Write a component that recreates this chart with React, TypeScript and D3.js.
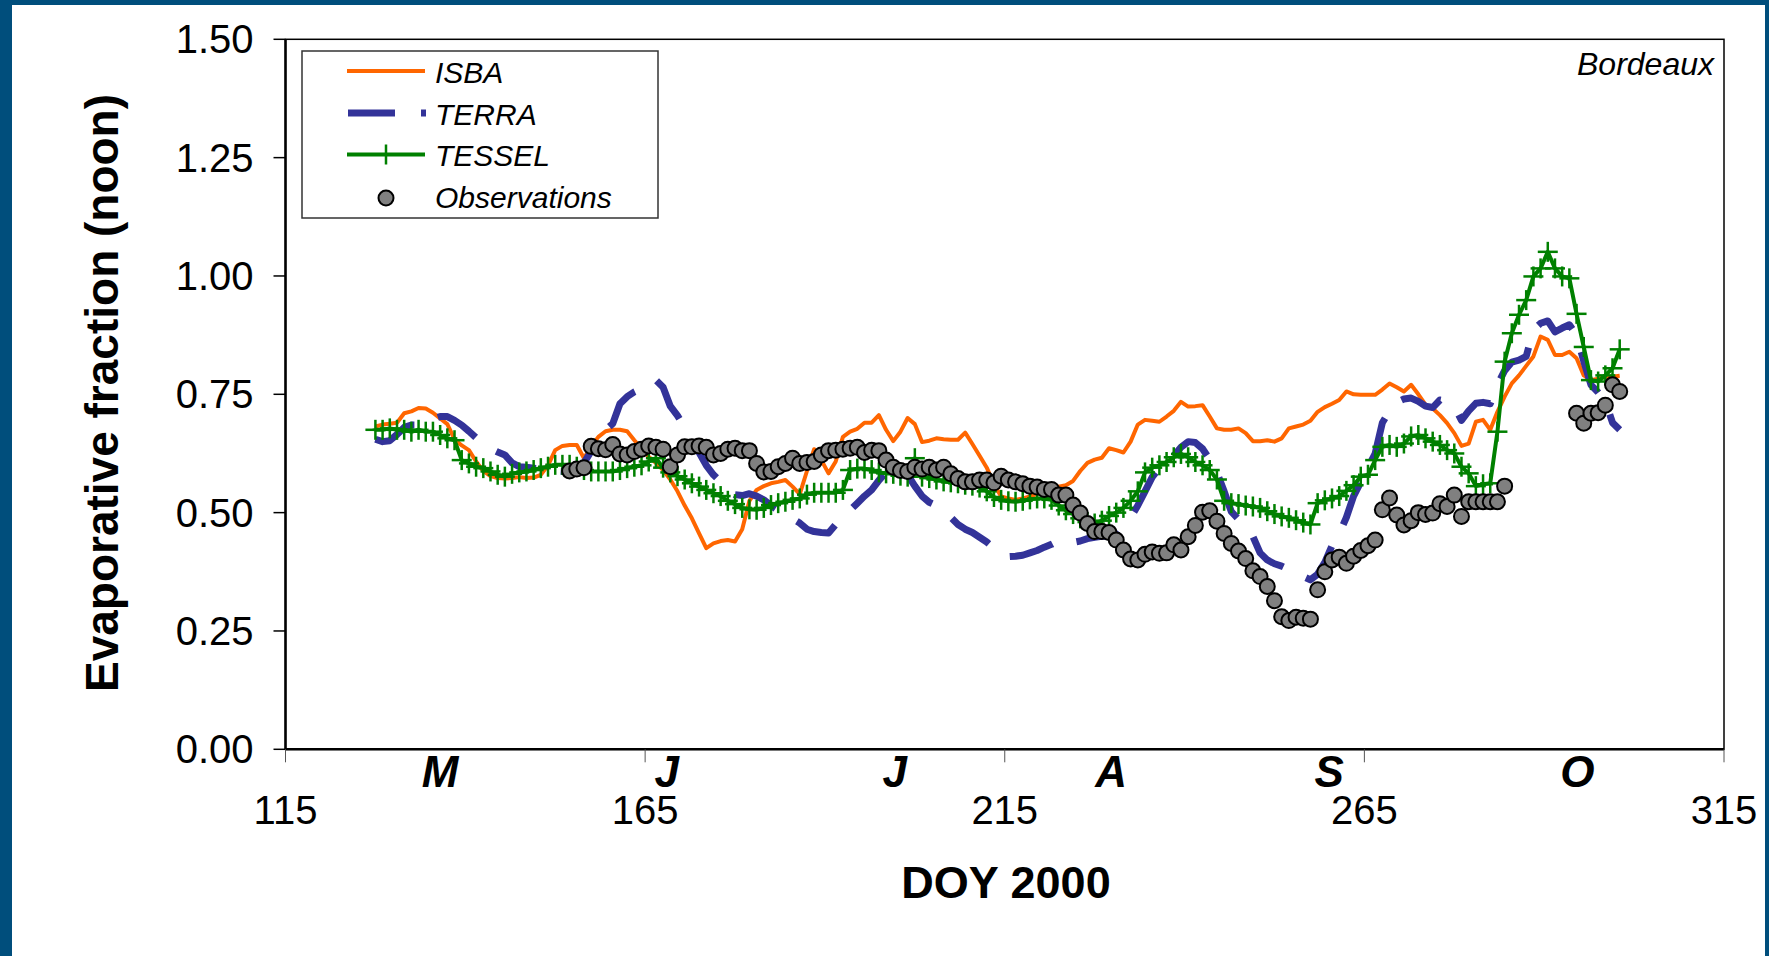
import React from "react";
import * as d3 from "d3";

// ---------- data ----------
const SERIES_START = 127; // first DOY of the model series
const isbaValues = [
  0.682, 0.686, 0.688, 0.69, 0.71, 0.714, 0.721, 0.72, 0.711, 0.699, 0.687, 0.655, 0.642, 0.632, 0.608, 0.588, 0.577, 0.573, 0.572, 0.573,
  0.575, 0.573, 0.574, 0.58, 0.6, 0.632, 0.641, 0.643, 0.643, 0.615, 0.64, 0.66, 0.672, 0.675, 0.675, 0.672, 0.653, 0.635, 0.618, 0.605,
  0.59, 0.57, 0.545, 0.515, 0.488, 0.456, 0.425, 0.435, 0.44, 0.442, 0.439, 0.465, 0.525, 0.548, 0.556, 0.562, 0.565, 0.569, 0.555, 0.539,
  0.588, 0.634, 0.611, 0.583, 0.608, 0.66, 0.671, 0.677, 0.69, 0.69, 0.706, 0.675, 0.651, 0.671, 0.7, 0.687, 0.649, 0.652, 0.657, 0.655,
  0.654, 0.654, 0.669, 0.645, 0.62, 0.595, 0.56, 0.534, 0.53, 0.527, 0.53, 0.534, 0.54, 0.548, 0.555, 0.555, 0.558, 0.567, 0.588, 0.605,
  0.612, 0.616, 0.636, 0.632, 0.627, 0.65, 0.686, 0.696, 0.694, 0.692, 0.703, 0.715, 0.734, 0.724, 0.725, 0.727, 0.703, 0.678, 0.675, 0.675,
  0.678, 0.668, 0.651, 0.651, 0.653, 0.65, 0.657, 0.678, 0.682, 0.686, 0.694, 0.713, 0.723, 0.73, 0.738, 0.756, 0.75, 0.749, 0.749, 0.749,
  0.76, 0.773, 0.765, 0.756, 0.77, 0.75, 0.728, 0.72, 0.706, 0.689, 0.668, 0.641, 0.646, 0.692, 0.696, 0.675, 0.713, 0.745, 0.773, 0.79,
  0.81, 0.83, 0.872, 0.865, 0.833, 0.833, 0.84, 0.826, 0.79, 0.78, 0.783, 0.787, 0.787, 0.789,
];
const terraValues = [
  0.655, 0.65, 0.652, 0.665, 0.68, 0.685, 0.685, 0.69, 0.698, 0.703, 0.703, 0.695, 0.685, 0.672, 0.658, 0.645, 0.635, 0.628, 0.622, 0.605,
  0.597, 0.596, 0.594, 0.592, 0.59, 0.588, 0.587, 0.59, 0.595, 0.605, 0.63, 0.66, 0.675, 0.688, 0.73, 0.745, 0.755, 0.762, 0.77, 0.78,
  0.765, 0.725, 0.705, 0.68, 0.65, 0.627, 0.6, 0.58, 0.565, 0.55, 0.538, 0.536, 0.54, 0.535, 0.527, 0.515, 0.505, 0.495, 0.487, 0.478,
  0.465, 0.46, 0.458, 0.457, 0.475, 0.49, 0.505, 0.52, 0.535, 0.548, 0.568, 0.585, 0.595, 0.6, 0.58, 0.556, 0.535, 0.522, 0.515, 0.503,
  0.49, 0.475, 0.465, 0.458, 0.448, 0.438, 0.425, 0.413, 0.407, 0.408, 0.41, 0.415, 0.42, 0.427, 0.433, 0.441, 0.437, 0.437, 0.44, 0.445,
  0.448, 0.45, 0.45, 0.452, 0.47, 0.49, 0.515, 0.545, 0.575, 0.595, 0.605, 0.62, 0.638, 0.65, 0.648, 0.635, 0.612, 0.585, 0.545, 0.502,
  0.486, 0.47, 0.45, 0.415, 0.4, 0.392, 0.387, 0.38, 0.373, 0.365, 0.358, 0.37, 0.395, 0.43, 0.455, 0.49, 0.535, 0.565, 0.595, 0.625,
  0.69, 0.715, 0.733, 0.74, 0.742, 0.735, 0.725, 0.722, 0.738, 0.735, 0.725, 0.695, 0.715, 0.731, 0.733, 0.73, 0.77, 0.8, 0.818, 0.822,
  0.83, 0.886, 0.9, 0.905, 0.882, 0.89, 0.897, 0.875, 0.82, 0.77, 0.754, 0.735, 0.69, 0.675,
];
const tesselValues = [
  0.675, 0.675, 0.678, 0.675, 0.675, 0.671, 0.675, 0.671, 0.671, 0.664, 0.657, 0.653, 0.611, 0.604, 0.597, 0.594, 0.587, 0.58, 0.576, 0.582,
  0.585, 0.587, 0.59, 0.594, 0.597, 0.601, 0.601, 0.601, 0.597, 0.59, 0.587, 0.587, 0.587, 0.587, 0.59, 0.594, 0.597, 0.6, 0.608, 0.615,
  0.595, 0.585, 0.577, 0.57, 0.562, 0.555, 0.548, 0.541, 0.535, 0.525, 0.518, 0.51, 0.507, 0.506, 0.51, 0.516, 0.52, 0.523, 0.527, 0.53,
  0.538, 0.542, 0.542, 0.542, 0.542, 0.548, 0.59, 0.593, 0.593, 0.59, 0.585, 0.583, 0.582, 0.578, 0.576, 0.615, 0.576, 0.573, 0.57, 0.566,
  0.564, 0.562, 0.559, 0.557, 0.553, 0.545, 0.533, 0.527, 0.524, 0.523, 0.525, 0.528, 0.53, 0.53, 0.527, 0.515, 0.505, 0.497, 0.488, 0.48,
  0.477, 0.483, 0.493, 0.5, 0.51, 0.525, 0.545, 0.585, 0.595, 0.6, 0.607, 0.617, 0.624, 0.617, 0.607, 0.6, 0.59, 0.57, 0.525, 0.52,
  0.518, 0.515, 0.513, 0.51, 0.503, 0.497, 0.492, 0.489, 0.484, 0.479, 0.475, 0.52, 0.526, 0.53, 0.535, 0.546, 0.558, 0.576, 0.58, 0.611,
  0.639, 0.643, 0.639, 0.646, 0.661, 0.664, 0.657, 0.65, 0.643, 0.632, 0.625, 0.597, 0.583, 0.556, 0.56, 0.562, 0.671, 0.819, 0.879, 0.918,
  0.949, 0.999, 1.016, 1.051, 1.016, 0.999, 0.995, 0.92, 0.85, 0.78, 0.777, 0.79, 0.805, 0.845,
];
const OBS_START = 154;
const obsValues: (number | null)[] = [
  0.588, 0.592, 0.595, 0.64, 0.635, 0.633, 0.644, 0.624, 0.622, 0.629, 0.634, 0.641, 0.638, 0.634, 0.597, 0.622, 0.639, 0.639, 0.641, 0.638,
  0.622, 0.625, 0.634, 0.636, 0.631, 0.631, 0.604, 0.586, 0.587, 0.597, 0.604, 0.615, 0.604, 0.606, 0.608, 0.622, 0.631, 0.632, 0.634, 0.636,
  0.638, 0.627, 0.632, 0.631, 0.611, 0.596, 0.589, 0.587, 0.596, 0.592, 0.596, 0.59, 0.596, 0.582, 0.572, 0.565, 0.565, 0.569, 0.569, 0.563,
  0.577, 0.569, 0.565, 0.561, 0.556, 0.554, 0.549, 0.549, 0.537, 0.537, 0.516, 0.499, 0.477, 0.46, 0.46, 0.458, 0.442, 0.421, 0.402, 0.4,
  0.412, 0.417, 0.414, 0.415, 0.432, 0.421, 0.449, 0.473, 0.501, 0.504, 0.482, 0.456, 0.435, 0.419, 0.403, 0.377, 0.365, 0.344, 0.314, 0.28,
  0.272, 0.279, 0.277, 0.275, 0.337, 0.375, 0.4, 0.406, 0.393, 0.408, 0.42, 0.43, 0.442, 0.506, 0.531, 0.495, 0.474, 0.483, 0.5, 0.496,
  0.499, 0.519, 0.513, 0.537, 0.492, 0.523, 0.523, 0.523, 0.523, 0.523, 0.556, null, null, null, null, null, null, null, null, null,
  0.71, 0.689, 0.71, 0.711, 0.727, 0.77, 0.756,
];

const xTicks = [115, 165, 215, 265, 315];
const yTicks = [0, 0.25, 0.5, 0.75, 1.0, 1.25, 1.5];
const monthLabels = ["M", "J", "J", "A", "S", "O"];
const monthLabelDoy = [136.5, 168, 199.7, 229.8, 260.1, 294.6];
const legendNames = ["ISBA", "TERRA", "TESSEL", "Observations"];

// ---------- layout ----------
const W = 1769;
const H = 956;
const PL = 285.5, PR = 1724, PT = 39.3, PB = 749.3;
const NOON = 0.5;
const FONT = "'Liberation Sans', Arial, Helvetica, sans-serif";
const C_ISBA = "#FF6600";
const C_TERRA = "#333399";
const C_TESSEL = "#008000";

export default function App() {
  const x = d3.scaleLinear().domain([115, 315]).range([PL, PR]);
  const y = d3.scaleLinear().domain([0, 1.5]).range([PB, PT]);

  const mkLine = (start: number) =>
    d3
      .line<number>()
      .x((_, i) => x(start + i + NOON))
      .y((v) => y(v));

  const isbaPath = mkLine(SERIES_START)(isbaValues) || "";
  const terraPath = mkLine(SERIES_START)(terraValues) || "";
  const tesselPath = mkLine(SERIES_START)(tesselValues) || "";

  const obsPts = obsValues
    .map((v, i) => ({ d: OBS_START + i, v }))
    .filter((p) => p.v != null) as { d: number; v: number }[];

  const legY = [71, 113, 154.5, 198];
  const legTextY = [82.5, 124.5, 166, 207.5];

  return (
    <svg
      width={W}
      height={H}
      style={{ position: "absolute", left: 0, top: 0, display: "block" }}
      fontFamily={FONT}
    >
      <rect x={0} y={0} width={W} height={H} fill="#004e7c" />
      <rect x={12} y={5} width={W - 16} height={H - 5} fill="#ffffff" />

      {/* plot frame */}
      <rect x={PL} y={PT} width={PR - PL} height={PB - PT} fill="none" stroke="#000" strokeWidth={1.5} />
      <line x1={PL} x2={PL} y1={PT} y2={PB} stroke="#000" strokeWidth={2.5} />
      <line x1={PL} x2={PR} y1={PB} y2={PB} stroke="#000" strokeWidth={2.5} />

      {/* y ticks */}
      {yTicks.map((t) => (
        <g key={"yt" + t}>
          <line x1={PL - 12} x2={PL} y1={y(t)} y2={y(t)} stroke="#000" strokeWidth={1.5} />
          <text x={253.5} y={y(t) + 14} textAnchor="end" fontSize={40} fill="#000">
            {t.toFixed(2)}
          </text>
        </g>
      ))}

      {/* x ticks */}
      {xTicks.map((t) => (
        <g key={"xt" + t}>
          <line x1={x(t)} x2={x(t)} y1={PB} y2={PB + 13} stroke="#555" strokeWidth={1} />
          <text x={x(t)} y={824} textAnchor="middle" fontSize={40} fill="#000">
            {t}
          </text>
        </g>
      ))}

      {/* month labels */}
      {monthLabels.map((m, i) => (
        <text
          key={"m" + i}
          x={x(monthLabelDoy[i])}
          y={787}
          textAnchor="middle"
          fontSize={44}
          fontWeight="bold"
          fontStyle="italic"
          fill="#000"
        >
          {m}
        </text>
      ))}

      {/* axis titles */}
      <text x={1006} y={898} textAnchor="middle" fontSize={45} fontWeight="bold" fill="#000">
        DOY 2000
      </text>
      <text
        transform="translate(118,393) rotate(-90)"
        textAnchor="middle"
        fontSize={46}
        fontWeight="bold"
        fill="#000"
      >
        Evaporative fraction (noon)
      </text>

      {/* series */}
      <path d={isbaPath} fill="none" stroke={C_ISBA} strokeWidth={4} strokeLinejoin="round" />
      <path
        d={terraPath}
        fill="none"
        stroke={C_TERRA}
        strokeWidth={7}
        strokeDasharray="45 25"
        strokeLinejoin="round"
      />
      <path d={tesselPath} fill="none" stroke={C_TESSEL} strokeWidth={4} strokeLinejoin="round" />
      {tesselValues.map((v, i) => {
        const cx = x(SERIES_START + i + NOON);
        const cy = y(v);
        return (
          <g key={"ts" + i} stroke={C_TESSEL} strokeWidth={2.5}>
            <line x1={cx - 10} x2={cx + 10} y1={cy} y2={cy} />
            <line x1={cx} x2={cx} y1={cy - 10} y2={cy + 10} />
          </g>
        );
      })}
      {obsPts.map((p) => (
        <circle
          key={"o" + p.d}
          cx={x(p.d + NOON)}
          cy={y(p.v)}
          r={7.5}
          fill="#808080"
          stroke="#000"
          strokeWidth={2}
        />
      ))}

      {/* site label */}
      <text x={1714} y={75} textAnchor="end" fontSize={32} fontStyle="italic" fill="#000">
        Bordeaux
      </text>

      {/* legend */}
      <rect x={302} y={51} width={356} height={167} fill="#fff" stroke="#333" strokeWidth={1.5} />
      <line x1={347} x2={425} y1={legY[0]} y2={legY[0]} stroke={C_ISBA} strokeWidth={4} />
      <line
        x1={348}
        x2={426}
        y1={legY[1]}
        y2={legY[1]}
        stroke={C_TERRA}
        strokeWidth={7}
        strokeDasharray="47 26"
      />
      <line x1={347} x2={425} y1={legY[2]} y2={legY[2]} stroke={C_TESSEL} strokeWidth={4} />
      <line x1={386} x2={386} y1={legY[2] - 10} y2={legY[2] + 10} stroke={C_TESSEL} strokeWidth={2.5} />
      <circle cx={386} cy={legY[3]} r={7.5} fill="#808080" stroke="#000" strokeWidth={2} />
      {legendNames.map((n, i) => (
        <text key={n} x={435} y={legTextY[i]} fontSize={30} fontStyle="italic" fill="#000">
          {n}
        </text>
      ))}
    </svg>
  );
}
